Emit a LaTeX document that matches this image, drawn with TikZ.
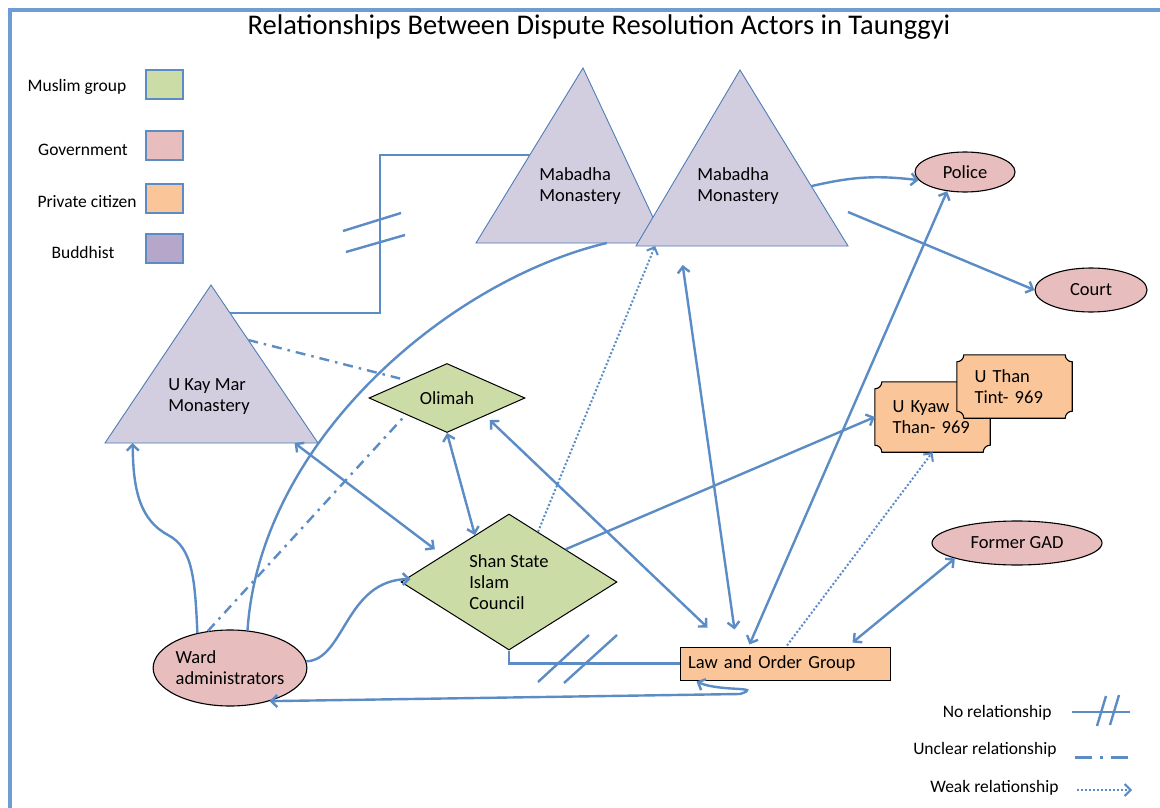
\documentclass[tikz,border=0pt]{standalone}
\usepackage{fontspec}
\setmainfont{Carlito}
\usetikzlibrary{shapes.geometric,arrows.meta,calc,backgrounds}

\definecolor{relblue}{HTML}{5B8CC5}
\definecolor{frameblue}{HTML}{6E9DD3}
\definecolor{muslimgreen}{HTML}{CBDCA6}
\definecolor{govpink}{HTML}{E8BDBD}
\definecolor{citizenorange}{HTML}{FAC598}
\definecolor{buddhistpurple}{HTML}{B6A6CA}
\definecolor{monkfill}{HTML}{D2CEE0}
\definecolor{monkedge}{HTML}{4F7DB5}

\tikzset{
  every node/.style={font=\fontsize{18.5}{21}\selectfont},
  >={Straight Barb[length=6pt,width=12pt]},
  rel/.style={draw=relblue, line width=2.4pt},
  weak/.style={rel, line width=2pt, dash pattern=on 2pt off 2pt},
  unclear/.style={rel, dash pattern=on 10pt off 6pt on 2.5pt off 6pt},
  gov/.style={ellipse, draw, line width=1.1pt, fill=govpink, inner sep=0pt, align=left},
  muslim/.style={diamond, draw, line width=1pt, fill=muslimgreen, inner sep=0pt, align=left},
  monk/.style={draw=monkedge, line width=0.9pt, fill=monkfill},
  monktext/.style={align=left, inner sep=0pt},
  citizen/.style={rectangle, draw, line width=1pt, fill=citizenorange},
  plaquetext/.style={text width=80pt, align=left, inner sep=0pt},
  keybox/.style={draw=relblue, line width=1.6pt, minimum width=37pt, minimum height=29pt, inner sep=0pt},
  keytext/.style={font=\fontsize{17.5}{20}\selectfont},
}

% concave-cornered plaque behind a named node
\newcommand{\drawplaque}[1]{%
  \begin{scope}[on background layer]
    \draw[line width=1.1pt, fill=citizenorange]
      ($(#1.north west)+(0,-7)$) arc[start angle=-90,end angle=0,radius=7pt]
      -- ($(#1.north east)+(-7,0)$) arc[start angle=180,end angle=270,radius=7pt]
      -- ($(#1.south east)+(0,7)$) arc[start angle=90,end angle=180,radius=7pt]
      -- ($(#1.south west)+(7,0)$) arc[start angle=0,end angle=90,radius=7pt]
      -- cycle;
  \end{scope}}

\begin{document}
\begin{tikzpicture}[x=1pt,y=1pt]
  \begin{scope}[on background layer]
    \fill[white] (0,0) rectangle (1160,-808);
  \end{scope}
  \useasboundingbox (0,0) rectangle (1160,-808);

  % Frame
  \draw[frameblue, line width=3.5pt] (10,-808) -- (10,-10) -- (1160,-10);

  % Title
  \node[font=\fontsize{28.5}{33}\selectfont] (title) at (599,-27)
    {Relationships Between Dispute Resolution Actors in Taunggyi};

  % Colour key
  \node[keytext] (keyMuslim) at (77,-87) {Muslim group};
  \node[keytext] (keyGov) at (83,-150) {Government};
  \node[keytext] (keyCitizen) at (87,-202) {Private citizen};
  \node[keytext] (keyBuddhist) at (83,-252) {Buddhist};
  \node[keybox, fill=muslimgreen] (boxMuslim) at (164.5,-84.5) {};
  \node[keybox, fill=govpink] (boxGov) at (164.5,-145.5) {};
  \node[keybox, fill=citizenorange] (boxCitizen) at (164.5,-198.5) {};
  \node[keybox, fill=buddhistpurple] (boxBuddhist) at (164.5,-248.5) {};

  % Monasteries
  \coordinate (ukmT) at (211,-285);
  \coordinate (ukmL) at (105,-443);
  \coordinate (ukmR) at (318,-443);
  \coordinate (mab1T) at (583,-68);
  \coordinate (mab1L) at (476,-243);
  \coordinate (mab1R) at (665,-243);
  \coordinate (mab2T) at (740,-70);
  \coordinate (mab2L) at (636,-246);
  \coordinate (mab2R) at (848,-246);
  \draw[monk] (ukmT) -- (ukmL) -- (ukmR) -- cycle;
  \draw[monk] (mab1T) -- (mab1L) -- (mab1R) -- cycle;
  \draw[monk] (mab2T) -- (mab2L) -- (mab2R) -- cycle;
  \node[monktext] (ukm) at (209,-397) {U Kay Mar\\Monastery};
  \node[monktext] (mab1) at (580,-186) {Mabadha\\Monastery};
  \node[monktext] (mab2) at (738,-186) {Mabadha\\Monastery};
  \coordinate (ukmSide) at ($(ukmT)!.177!(ukmR)$);
  \coordinate (mab1Side) at ($(mab1T)!.497!(mab1L)$);

  % Government
  \node[gov, minimum width=100pt, minimum height=40pt] (police) at (965,-172) {Police};
  \node[gov, minimum width=112pt, minimum height=44pt] (court) at (1091,-290) {Court};
  \node[gov, minimum width=170pt, minimum height=44pt] (gad) at (1017,-543) {Former GAD};
  \node[gov, minimum width=150pt, minimum height=76pt] (ward) at (230,-668) {Ward\\administrators};

  % Muslim groups
  \node[muslim, shape aspect=2.26, minimum width=156pt, minimum height=69pt] (olimah) at (447,-398) {Olimah};
  \node[muslim, shape aspect=1.6, minimum width=216pt, minimum height=136pt] (shan) at (509,-582) {Shan State\\Islam\\Council};

  % Private citizens
  \node[citizen, text width=194pt, align=left, inner sep=8pt, minimum height=33pt] (log) at (785,-663.5) {Law and Order Group};
  \node[plaquetext, minimum width=115pt, minimum height=70pt] (kyaw) at (932.5,-417) {U Kyaw\\Than- 969};
  \drawplaque{kyaw}
  \node[plaquetext, minimum width=115pt, minimum height=63pt] (tint) at (1014.5,-386.5) {U Than\\Tint- 969};
  \drawplaque{tint}

  % No relationship
  \draw[rel] (ukmSide) -| ($(ukmSide)!.5!(mab1Side)$) |- (mab1Side);
  \draw[rel] (343,-231) -- (401,-213);
  \draw[rel] (346,-252) -- (405,-235);
  \draw[rel] (shan.south) |- (log.west);
  \draw[rel] (538,-682) -- (589,-635);
  \draw[rel] (564,-683) -- (617,-635);

  % Relationships
  \draw[rel, ->] ($(mab2T)!.66!(mab2R)$) to[bend left=10] (police.190);
  \draw[rel, ->] ($(mab2R)+(0,34)$) -- (court.west);
  \draw[rel, <->] (police.227) -- ($(log.north west)+(70,2)$);
  \draw[rel, <->] ($(mab2L)!.22!(mab2R)+(0,-19)$) -- ($(log.north west)+(55,17)$);
  \draw[rel, <->] (gad.194) -- ($(log.north west)+(173,4)$);
  \draw[rel, ->] (shan.30) -- (kyaw.west);
  \draw[rel, <->, shorten <=6pt] (olimah.-25) -- ($(log.north west)+(28,19)$);
  \draw[rel, <->] (olimah.south) -- (shan.126);
  \draw[rel, <->, shorten >=10pt] ($(ukmL)!.89!(ukmR)$) -- (shan.158);
  \draw[rel, ->] (ward.133) .. controls (195,-580) and (193,-548) .. (168,-535)
    .. controls (140,-520) and (133,-490) .. ($(ukmL)!.13!(ukmR)$);
  \draw[rel] (ward.65) .. controls (260,-440) and (450,-280) .. ($(mab1L)!.692!(mab1R)$);
  \draw[rel, ->] (ward.5) .. controls (345,-660) and (345,-580) .. ($(shan.west)+(10,3)$);
  \draw[rel, <->] ($(log.south west)+(17,-1)$) .. controls (720,-692) and (765,-686) .. (740,-694) -- (ward.-40);

  % Weak and unclear relationships
  \draw[weak, ->] (shan.60) -- ($(mab2L)!.09!(mab2R)$);
  \draw[weak, ->] ($(log.north)+(2,1)$) -- (kyaw.south);
  \draw[unclear, shorten >=8pt] ($(ukmT)!.348!(ukmR)$) -- (olimah.north west);
  \draw[unclear] (ward.121) -- (olimah.202);

  % Line key
  \node[keytext, anchor=east] (keyNone) at (1055,-713) {No relationship};
  \node[keytext, anchor=east] (keyUnclear) at (1060,-750) {Unclear relationship};
  \node[keytext, anchor=east] (keyWeak) at (1062,-788) {Weak relationship};
  \draw[rel] ($(keyNone.east)+(17,1)$) -- ++(58,0);
  \draw[rel] (1097,-726) -- (1106,-696);
  \draw[rel] (1110,-725) -- (1119,-695);
  \draw[rel, line width=3pt, dash pattern=on 17pt off 8pt on 3pt off 8pt] ($(keyUnclear.east)+(15,-7)$) -- ++(55,0);
  \draw[weak, ->] ($(keyWeak.east)+(15,-2)$) -- ++(55,0);
\end{tikzpicture}
\end{document}
